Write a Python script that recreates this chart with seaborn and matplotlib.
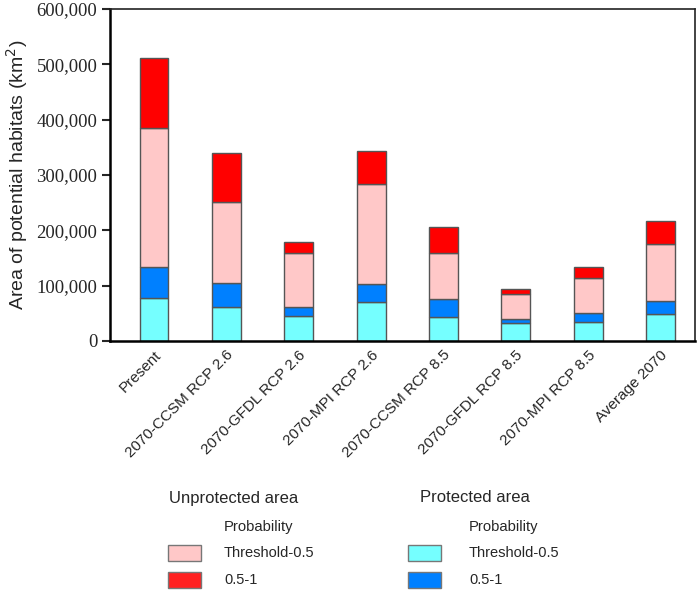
import matplotlib
matplotlib.use("Agg")
import matplotlib.pyplot as plt
import seaborn as sns
import pandas as pd
import numpy as np
from matplotlib.patches import Rectangle
from matplotlib.ticker import FuncFormatter

categories = ["Present", "2070-CCSM RCP 2.6", "2070-GFDL RCP 2.6", "2070-MPI RCP 2.6",
              "2070-CCSM RCP 8.5", "2070-GFDL RCP 8.5", "2070-MPI RCP 8.5", "Average 2070"]
prot_thr = [78000, 61000, 45000, 71000, 43000, 33000, 35000, 48000]
prot_hi = [55000, 43000, 17000, 32000, 32000, 7000, 16000, 24000]
unprot_thr = [252000, 147000, 97000, 181000, 84000, 45000, 62000, 103000]
unprot_hi = [126000, 89000, 20000, 59000, 47000, 9000, 21000, 42000]

c_cyan = "#75FFFF"
c_blue = "#0080FF"
c_pink = "#FFC8C8"
c_red = "#FF0000"

sns.set_style("white")
plt.rcParams["font.family"] = ["Liberation Sans", "DejaVu Sans"]

fig = plt.figure(figsize=(7, 5.92), dpi=100)
ax = fig.add_axes([0.157, 0.424, 0.836, 0.561])

df = pd.DataFrame({"cat": categories, "pt": prot_thr, "ph": prot_hi,
                   "ut": unprot_thr, "uh": unprot_hi})
bottom = np.zeros(len(categories))
for col, color in [("pt", c_cyan), ("ph", c_blue), ("ut", c_pink), ("uh", c_red)]:
    sns.barplot(data=df, x="cat", y=col, ax=ax, color=color, width=0.4,
                bottom=bottom.copy(), edgecolor="#555555", linewidth=1.0,
                saturation=1, errorbar=None)
    bottom = bottom + df[col].values

ax.set_xlim(-0.61, 7.48)
ax.set_ylim(0, 600000)
ax.set_yticks(np.arange(0, 600001, 100000))
ax.yaxis.set_major_formatter(FuncFormatter(lambda v, p: f"{int(v):,}"))
for lab in ax.get_yticklabels():
    lab.set_family(["Liberation Serif"])
    lab.set_fontsize(13.5)
ax.tick_params(axis="y", which="major", left=True, length=6, width=1.5, direction="out", pad=3)
ax.tick_params(axis="x", bottom=False, length=0, pad=5)
ax.set_xticks(range(len(categories)))
ax.set_xticklabels(categories, rotation=45, ha="right", rotation_mode="anchor", fontsize=11)
ax.set_xlabel("")
ax.set_ylabel("Area of potential habitats (km$^2$)", fontsize=14, labelpad=5)
for s in ["left", "bottom"]:
    ax.spines[s].set_linewidth(1.8)
    ax.spines[s].set_color("black")
for s in ["top", "right"]:
    ax.spines[s].set_linewidth(1.2)
    ax.spines[s].set_color("#222222")
    ax.spines[s].set_visible(True)

W, H = 700, 592
def fx(px):
    return px / W
def fy(py):
    return 1 - py / H

fig.text(fx(169), fy(498), "Unprotected area", fontsize=12, va="center", ha="left")
fig.text(fx(420), fy(498), "Protected area", fontsize=12, va="center", ha="left")
fig.text(fx(224), fy(527), "Probability", fontsize=10.6, va="center", ha="left")
fig.text(fx(469), fy(527), "Probability", fontsize=10.6, va="center", ha="left")

rows = [(553, "Threshold-0.5"), (580, "0.5-1")]
for (yc, label), cu, cp in zip(rows, [c_pink, "#FF2020"], [c_cyan, c_blue]):
    fig.add_artist(Rectangle((fx(168), fy(yc + 8)), 33 / W, 16 / H, transform=fig.transFigure,
                             facecolor=cu, edgecolor="#777777", linewidth=1))
    fig.add_artist(Rectangle((fx(408), fy(yc + 8)), 33 / W, 16 / H, transform=fig.transFigure,
                             facecolor=cp, edgecolor="#777777", linewidth=1))
    fig.text(fx(224), fy(yc), label, fontsize=10.5, va="center", ha="left")
    fig.text(fx(469), fy(yc), label, fontsize=10.5, va="center", ha="left")

fig.savefig("out.png", dpi=100)
